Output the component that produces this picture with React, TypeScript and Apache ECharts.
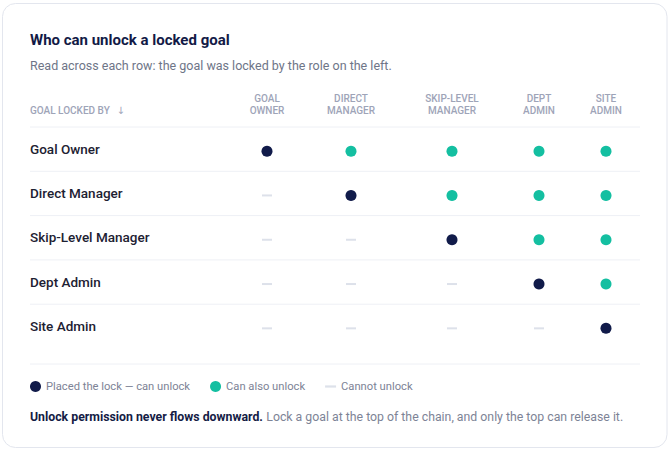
import { useEffect, useRef } from 'react'
import * as echarts from 'echarts'

const ROLES = ['Goal Owner', 'Direct Manager', 'Skip-Level Manager', 'Dept Admin', 'Site Admin']
const COLUMN_HEADERS = ['GOAL OWNER', 'DIRECT MANAGER', 'SKIP-LEVEL MANAGER', 'DEPT ADMIN', 'SITE ADMIN']
const STATUS_LABELS = ['Placed the lock — can unlock', 'Can also unlock', 'Cannot unlock']
// 0 = placed the lock, 1 = can also unlock, 2 = cannot unlock
const PERMISSIONS = [
  [0, 1, 1, 1, 1],
  [2, 0, 1, 1, 1],
  [2, 2, 0, 1, 1],
  [2, 2, 2, 0, 1],
  [2, 2, 2, 2, 0],
]
const TITLE = 'Who can unlock a locked goal'
const SUBTITLE = 'Read across each row: the goal was locked by the role on the left.'
const ROW_HEADER = 'GOAL LOCKED BY'
const FOOTER_BOLD = 'Unlock permission never flows downward.'
const FOOTER_TEXT = 'Lock a goal at the top of the chain, and only the top can release it.'

// layout
const FONT = 'Roboto, "Noto Sans", sans-serif'
const NAVY = '#111b4a'
const TEAL = '#14bfa1'
const DASH = '#dde1ea'
const HEADER_GRAY = '#9ea4b8'
const COLUMN_CENTERS = [267, 351, 452, 539, 606]
const COLUMN_WIDTH = 60
const TABLE_LEFT = 30
const TABLE_RIGHT = 640
const HEADER_LINE = 127
const ROW_HEIGHT = 44.3
const GRID_TOP = 129

const STATUS_STYLE = [
  { symbol: 'circle', symbolSize: 11, color: NAVY },
  { symbol: 'circle', symbolSize: 11, color: TEAL },
  { symbol: 'rect', symbolSize: [10, 2], color: DASH },
]

export default function App() {
  const ref = useRef<HTMLDivElement | null>(null)

  useEffect(() => {
    if (!ref.current) return undefined
    const chart = echarts.init(ref.current, undefined, { renderer: 'svg' })

    const gridHeight = ROW_HEIGHT * ROLES.length
    const columnGrids = COLUMN_CENTERS.map((center) => ({
      left: center - COLUMN_WIDTH / 2,
      width: COLUMN_WIDTH,
      top: GRID_TOP,
      height: gridHeight,
    }))

    const series: any[] = []
    COLUMN_HEADERS.forEach((_, col) => {
      STATUS_LABELS.forEach((label, status) => {
        const style = STATUS_STYLE[status]
        series.push({
          type: 'scatter',
          name: label,
          xAxisIndex: col,
          yAxisIndex: col,
          symbol: style.symbol,
          symbolSize: style.symbolSize,
          itemStyle: { color: style.color, opacity: 1 },
          silent: true,
          data: PERMISSIONS.map((row, r) => (row[col] === status ? [0, r] : null)).filter(Boolean),
        })
      })
    })

    const separators = [0, 1, 2, 3, 4].map((i) => ({
      type: 'line',
      shape: {
        x1: TABLE_LEFT,
        x2: TABLE_RIGHT,
        y1: HEADER_LINE + i * ROW_HEIGHT,
        y2: HEADER_LINE + i * ROW_HEIGHT,
      },
      style: { stroke: '#eef0f5', lineWidth: 1 },
      silent: true,
    }))

    chart.setOption({
      animation: false,
      backgroundColor: '#ffffff',
      textStyle: { fontFamily: FONT },
      title: {
        left: 30,
        top: 31,
        padding: 0,
        text: TITLE,
        subtext: SUBTITLE,
        itemGap: 8,
        textStyle: { fontFamily: FONT, fontSize: 15, fontWeight: 700, color: '#121a46', lineHeight: 18 },
        subtextStyle: { fontFamily: FONT, fontSize: 12.5, color: '#6e7587', lineHeight: 16 },
      },
      legend: {
        left: 30,
        top: 381,
        padding: 0,
        itemWidth: 11,
        itemHeight: 11,
        itemGap: 20,
        selectedMode: false,
        textStyle: { fontFamily: FONT, fontSize: 11.2, color: '#7d8396' },
        data: [
          { name: STATUS_LABELS[0], icon: 'circle' },
          { name: STATUS_LABELS[1], icon: 'circle' },
          { name: STATUS_LABELS[2], icon: 'path://M0,0H10V2H0Z' },
        ],
      },
      grid: [
        ...columnGrids,
        { left: TABLE_LEFT, width: 200, top: GRID_TOP - 2.5, height: gridHeight },
      ],
      xAxis: [
        ...COLUMN_HEADERS.map((header, i) => ({
          type: 'category',
          gridIndex: i,
          position: 'top',
          data: [header],
          axisLine: { show: false },
          axisTick: { show: false },
          axisLabel: {
            margin: 13,
            fontFamily: FONT,
            fontSize: 10,
            fontWeight: 500,
            color: HEADER_GRAY,
            lineHeight: 12,
            align: 'center',
            formatter: (v: string) => v.split(' ').join('\n'),
          },
        })),
        { type: 'category', gridIndex: 5, data: [''], show: false },
      ],
      yAxis: [
        ...COLUMN_HEADERS.map((_, i) => ({
          type: 'category',
          gridIndex: i,
          inverse: true,
          data: ROLES,
          show: false,
        })),
        {
          type: 'category',
          gridIndex: 5,
          inverse: true,
          data: ROLES,
          axisLine: { show: false },
          axisTick: { show: false },
          splitLine: { show: false },
          axisLabel: {
            inside: true,
            margin: 0,
            align: 'left',
            fontFamily: FONT,
            fontSize: 13.5,
            fontWeight: 500,
            color: '#1d2132',
          },
        },
      ],
      series,
      graphic: [
        {
          type: 'rect',
          z: -10,
          silent: true,
          shape: { x: 2.5, y: 3.5, width: 664.5, height: 444, r: 13 },
          style: { fill: '#ffffff', stroke: '#e3e6ee', lineWidth: 1 },
        },
        ...separators,
        {
          type: 'line',
          silent: true,
          shape: { x1: TABLE_LEFT, x2: TABLE_RIGHT, y1: 364, y2: 364 },
          style: { stroke: '#eef0f5', lineWidth: 1 },
        },
        {
          type: 'text',
          x: TABLE_LEFT,
          y: 110,
          silent: true,
          style: {
            text: `{h|${ROW_HEADER}}  {a|↓}`,
            verticalAlign: 'middle',
            rich: {
              h: { fontFamily: FONT, fontSize: 10, fontWeight: 500, fill: HEADER_GRAY },
              a: { fontFamily: '"DejaVu Sans", sans-serif', fontSize: 10, fill: HEADER_GRAY },
            },
          },
        },
        {
          type: 'text',
          x: TABLE_LEFT,
          y: 417,
          silent: true,
          style: {
            text: `{b|${FOOTER_BOLD}} {n|${FOOTER_TEXT}}`,
            verticalAlign: 'middle',
            rich: {
              b: { fontFamily: FONT, fontSize: 12.3, fontWeight: 700, fill: '#141c45' },
              n: { fontFamily: FONT, fontSize: 12.3, fill: '#7d8396' },
            },
          },
        },
      ],
    })

    return () => chart.dispose()
  }, [])

  return <div ref={ref} style={{ position: 'fixed', left: 0, top: 0, width: 670, height: 451 }} />
}
